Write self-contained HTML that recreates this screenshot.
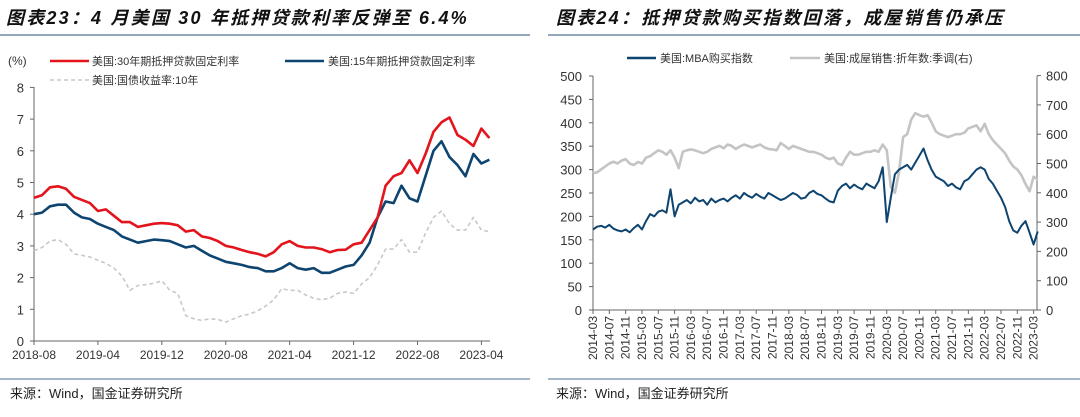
<!DOCTYPE html>
<html><head><meta charset="utf-8"><style>
body{margin:0;background:#fff;width:1080px;height:412px;overflow:hidden;font-family:"Liberation Sans","Noto Sans CJK SC",sans-serif}
svg text{font-family:"Liberation Sans","Noto Sans CJK SC",sans-serif}
</style></head><body>
<svg id="s" width="1080" height="412">
<text x="6" y="24" font-size="18" font-weight="bold" font-style="italic" letter-spacing="2.2" fill="#111">图表23：4 月美国 30 年抵押贷款利率反弹至 6.4%</text>
<text x="556" y="24" font-size="18" font-weight="bold" font-style="italic" letter-spacing="2.2" fill="#111">图表24：抵押贷款购买指数回落，成屋销售仍承压</text>
<line x1="0" y1="35" x2="530" y2="35" stroke="#6f8aa6" stroke-width="1.5"/>
<line x1="548" y1="35" x2="1080" y2="35" stroke="#6f8aa6" stroke-width="1.5"/>
<line x1="0" y1="379" x2="530" y2="379" stroke="#6f8aa6" stroke-width="1.2"/>
<line x1="548" y1="379" x2="1080" y2="379" stroke="#6f8aa6" stroke-width="1.2"/>
<text x="10" y="398" font-size="13" fill="#222">来源：Wind，国金证券研究所</text>
<text x="556" y="398" font-size="13" fill="#222">来源：Wind，国金证券研究所</text>
<text x="8" y="65" font-size="12" fill="#333">(%)</text>
<line x1="50" y1="61" x2="89" y2="61" stroke="#e3141b" stroke-width="2.5"/>
<text x="92" y="65" font-size="11" fill="#333">美国:30年期抵押贷款固定利率</text>
<line x1="285" y1="61" x2="324" y2="61" stroke="#0d4470" stroke-width="2.5"/>
<text x="328" y="65" font-size="11" fill="#333">美国:15年期抵押贷款固定利率</text>
<line x1="50" y1="80" x2="89" y2="80" stroke="#c8c8c8" stroke-width="1.5" stroke-dasharray="4,3"/>
<text x="92" y="84" font-size="11" fill="#333">美国:国债收益率:10年</text>
<line x1="627" y1="58" x2="656" y2="58" stroke="#0d4470" stroke-width="2.5"/>
<text x="660" y="62" font-size="11" fill="#333">美国:MBA购买指数</text>
<line x1="790" y1="58" x2="820" y2="58" stroke="#c4c4c4" stroke-width="2.5"/>
<text x="824" y="62" font-size="11" fill="#333">美国:成屋销售:折年数:季调(右)</text>
<g id="g"></g>
</svg>
<script>
const leftTicks=[0,1,2,3,4,5,6,7,8];
const leftXLabels=["2018-08","2019-04","2019-12","2020-08","2021-04","2021-12","2022-08","2023-04"];
const rate30=[4.52,4.6,4.85,4.88,4.8,4.55,4.45,4.35,4.1,4.15,3.95,3.75,3.75,3.6,3.65,3.7,3.72,3.7,3.65,3.45,3.5,3.3,3.25,3.15,3.0,2.95,2.87,2.8,2.75,2.67,2.8,3.05,3.15,3.0,2.95,2.95,2.9,2.8,2.87,2.88,3.05,3.1,3.5,3.9,4.9,5.2,5.3,5.7,5.3,5.9,6.6,6.9,7.05,6.5,6.35,6.15,6.7,6.4];
const rate15=[4.0,4.05,4.25,4.3,4.3,4.05,3.9,3.85,3.7,3.6,3.5,3.3,3.2,3.1,3.15,3.2,3.18,3.15,3.05,2.95,3.0,2.85,2.7,2.6,2.5,2.45,2.4,2.33,2.3,2.2,2.2,2.3,2.45,2.3,2.25,2.3,2.15,2.15,2.25,2.35,2.4,2.7,3.1,3.9,4.4,4.35,4.9,4.5,4.4,5.2,6.0,6.3,5.8,5.55,5.2,5.9,5.6,5.72];
const yield10=[2.85,2.95,3.15,3.2,3.05,2.75,2.7,2.65,2.55,2.45,2.3,2.05,1.6,1.75,1.78,1.82,1.9,1.6,1.5,0.8,0.7,0.65,0.7,0.68,0.6,0.7,0.8,0.85,0.95,1.1,1.3,1.65,1.6,1.6,1.45,1.35,1.3,1.35,1.5,1.55,1.5,1.8,2.0,2.4,2.9,2.9,3.2,2.8,2.8,3.4,3.9,4.1,3.7,3.5,3.5,3.9,3.5,3.45];
const rightLTicks=[0,50,100,150,200,250,300,350,400,450,500];
const rightRTicks=[0,100,200,300,400,500,600,700,800];
const rightXLabels=[];for(let y=2014;y<=2023;y++)for(const mm of["03","07","11"])if(!(y===2023&&mm!=="03"))rightXLabels.push(y+"-"+mm);
const mba=[172,178,180,176,182,174,170,168,172,166,175,182,172,190,205,200,210,213,208,258,200,225,230,235,228,240,232,235,225,238,230,235,238,232,240,245,238,250,244,240,248,242,238,250,245,240,235,238,244,250,246,238,240,250,255,248,245,238,232,230,255,265,270,260,268,262,258,270,265,260,275,305,188,240,290,300,305,310,300,315,330,345,320,300,285,280,275,265,270,262,258,275,280,290,300,305,300,280,270,255,240,220,190,170,165,180,190,165,140,168];
const sales=[467,470,480,490,500,506,500,510,515,500,495,505,500,520,525,535,545,540,530,545,520,484,540,545,548,545,540,535,540,550,555,560,552,565,560,550,558,565,560,555,560,565,555,550,548,545,570,560,550,560,555,550,545,540,540,535,530,520,515,520,500,495,520,540,530,530,535,540,540,545,540,565,545,420,400,470,590,600,650,672,665,660,665,640,610,600,595,590,595,600,600,605,620,625,630,610,635,600,580,565,550,535,510,490,480,460,430,405,455,445];

const g=document.getElementById('g');const NS="http://www.w3.org/2000/svg";
function mk(t,a,txt){const e=document.createElementNS(NS,t);for(const k in a)e.setAttribute(k,a[k]);if(txt!==undefined)e.textContent=txt;g.appendChild(e);return e;}
const lx=m=>34+m*7.99, ly=v=>341-v*31.7;
let e=mk('line',{x1:34,y1:87,x2:34,y2:341,stroke:'#666'});


e=mk('line',{x1:34,y1:341,x2:490,y2:341,stroke:'#666'});


leftTicks.forEach(v=>{mk('line',{x1:30,y1:ly(v),x2:34,y2:ly(v),stroke:'#666'});
 e=mk('text',{x:24,y:ly(v)+5,'font-size':13,'text-anchor':'end',fill:'#333'},v);
 
 });
leftXLabels.forEach((l,i)=>{const x=lx(i*8);mk('line',{x1:x,y1:341,x2:x,y2:345,stroke:'#666'});
 e=mk('text',{x:x,y:359,'font-size':12,'text-anchor':'middle',fill:'#333'},l);
 
 });
function line(arr,fx,fy,st,name){const d=arr.map((v,i)=>(i?'L':'M')+fx(i).toFixed(1)+','+fy(v).toFixed(1)).join('');const p=mk('path',Object.assign({d:d,fill:'none','stroke-linejoin':'round'},st));
 
 }
line(yield10,lx,ly,{stroke:'#c8c8c8','stroke-width':1.6,'stroke-dasharray':'4,3'},'series-10yr-yield');
line(rate15,lx,ly,{stroke:'#0d4470','stroke-width':2.6},'series-15yr-rate');
line(rate30,lx,ly,{stroke:'#e3141b','stroke-width':2.6},'series-30yr-rate');
const rx=m=>593+m*4.08, ryl=v=>310-v*0.468, ryr=v=>310-v*0.293;
e=mk('line',{x1:593,y1:76,x2:593,y2:310,stroke:'#666'});


e=mk('line',{x1:1037,y1:76,x2:1037,y2:310,stroke:'#666'});


e=mk('line',{x1:593,y1:310,x2:1037,y2:310,stroke:'#666'});


rightLTicks.forEach(v=>{mk('line',{x1:589,y1:ryl(v),x2:593,y2:ryl(v),stroke:'#666'});
 e=mk('text',{x:582,y:ryl(v)+5,'font-size':13,'text-anchor':'end',fill:'#333'},v);
 
 });
rightRTicks.forEach(v=>{mk('line',{x1:1037,y1:ryr(v),x2:1041,y2:ryr(v),stroke:'#666'});
 e=mk('text',{x:1046,y:ryr(v)+5,'font-size':13,fill:'#333'},v);
 
 });
rightXLabels.forEach((l,i)=>{const x=rx(i*4);mk('line',{x1:x,y1:310,x2:x,y2:314,stroke:'#666'});
 e=mk('text',{x:0,y:0,'font-size':12,'text-anchor':'end',fill:'#333',transform:`translate(${x+4},316) rotate(-90)`},l);
 
 });
line(sales,rx,ryr,{stroke:'#c4c4c4','stroke-width':2.6},'series-home-sales');
line(mba,rx,ryl,{stroke:'#0d4470','stroke-width':2},'series-mba-index');
</script>
</body></html>
